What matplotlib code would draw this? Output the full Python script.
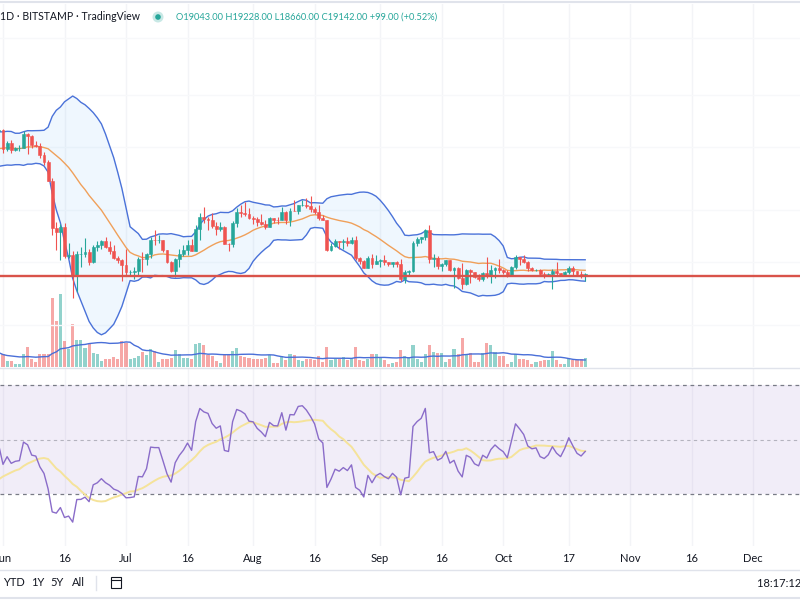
import numpy as np
import pandas as pd
import matplotlib
matplotlib.use("Agg")
import matplotlib.pyplot as plt
from matplotlib.patches import Circle, Rectangle

# --- data: BTC/USD daily candles (Bitstamp), 1 May -> 21 Oct 2022 ---
# May is only there so the 20-day Bollinger band and RSI are warmed up
dates = pd.date_range("2022-05-01", "2022-10-21", freq="D")
first_open = 37640

closes = [
    # May
    38470, 38520, 37730, 39690, 36550, 36010, 35470, 34060, 30300, 31020,
    28940, 29050, 29290, 30080, 31310, 29860, 30420, 28700, 30300, 29190,
    29430, 30280, 29100, 29650, 29560, 29270, 28630, 29020, 29450, 31720, 31790,
    # Jun
    29800, 30450, 29700, 29860, 29910, 31370, 31130, 30200, 30110, 29090,
    28420, 26580, 22490, 22210, 22580, 20380, 20470, 19000, 20560, 20570,
    20720, 19970, 21090, 21230, 21500, 21030, 20730, 20280, 20100, 19780,
    # Jul
    19290, 19300, 19330, 20220, 20190, 20550, 21620, 21590, 21590, 20850,
    19960, 19330, 20210, 20570, 20830, 21190, 20790, 22430, 23400, 23230,
    23160, 22680, 22450, 22580, 21310, 21250, 22950, 23850, 23770, 23640, 23300,
    # Aug
    23270, 22980, 22820, 22620, 23310, 23180, 23170, 23810, 23150, 23950,
    23940, 24400, 24440, 24300, 24100, 23860, 23340, 23190, 20830, 21140,
    21520, 21400, 21530, 21370, 21560, 20240, 20040, 19550, 20280, 19800, 20050,
    # Sep
    20130, 19950, 19830, 19990, 19800, 18790, 19290, 19320, 21380, 21650,
    21830, 22400, 20180, 20240, 19700, 19800, 20110, 19420, 19540, 18880,
    18490, 19410, 19290, 18920, 18800, 19220, 19080, 19410, 19590, 19430,
    # Oct
    19310, 19060, 19630, 20340, 20160, 19960, 19530, 19420, 19450, 19130,
    19060, 19160, 19380, 19180, 19070, 19270, 19550, 19330, 19120, 19043, 19142,
]
highs = [
    38670, 39150, 38650, 39960, 39830, 36650, 36130, 35500, 34240, 32620,
    32170, 30070, 31000, 30300, 31440, 31320, 30770, 30650, 30500, 30750,
    29610, 30450, 30650, 29810, 30200, 29850, 29380, 29200, 29600, 32200, 32400,
    31950, 30650, 30680, 29950, 30150, 31750, 31500, 31300, 30650, 30350,
    29450, 28580, 26900, 23000, 22800, 22950, 21350, 20780, 20800, 21060,
    21720, 20880, 21200, 21500, 21590, 21850, 21520, 21180, 20420, 20200,
    20880, 19450, 19650, 20350, 20720, 20650, 21820, 22400, 21950, 21610,
    20860, 20050, 20250, 20880, 21200, 21600, 21650, 22750, 23750, 24280,
    23440, 23760, 22990, 22980, 22640, 21330, 23100, 24200, 24450, 24650, 24200,
    23480, 23450, 23650, 23200, 23450, 23350, 23400, 24230, 23920, 24200,
    24900, 24450, 24880, 25050, 25200, 24250, 24450, 23600, 23200, 21360,
    21700, 21530, 21660, 21850, 21800, 21880, 20350, 20150, 20390, 20570, 20480,
    20200, 20440, 19990, 20000, 20040, 20180, 19450, 19440, 21520, 21780,
    21850, 22480, 22780, 20550, 20370, 19880, 20150, 20120, 19650, 19620,
    19930, 19480, 19480, 19300, 19170, 19300, 20350, 19750, 19640, 20160,
    19460, 19400, 19700, 20450, 20350, 20450, 20050, 19600, 19520, 19520,
    19250, 19220, 19520, 19950, 19220, 19370, 19680, 19700, 19350, 19340, 19228,
]
lows = [
    37390, 38060, 37500, 37680, 35860, 35250, 34770, 33710, 30040, 29760,
    27700, 25400, 28750, 28640, 29490, 29100, 29450, 28680, 28660, 28740,
    28950, 29250, 28880, 28300, 29330, 28020, 28280, 28540, 28850, 29300, 31230,
    29350, 29590, 29330, 29500, 29500, 29880, 29230, 29900, 29950, 28880,
    28120, 26560, 21950, 20850, 20100, 20250, 20250, 17600, 17980, 19640,
    20350, 19790, 19900, 20760, 20930, 20990, 20520, 20200, 19880, 18650,
    19000, 18980, 18800, 19050, 19300, 19780, 20250, 21200, 21350, 20670,
    19880, 19250, 18920, 19650, 20400, 20500, 20770, 20780, 21600, 22920,
    22350, 22500, 21950, 22280, 21300, 20730, 21050, 22600, 23450, 23500, 23250,
    22870, 22650, 22720, 22430, 22600, 22950, 22850, 23150, 22870, 22690,
    23880, 23630, 24300, 24200, 23800, 23700, 23200, 23150, 20800, 20780,
    21080, 20900, 20900, 21150, 21320, 20100, 19810, 19530, 19550, 19530, 19800,
    19650, 19750, 19670, 19610, 19650, 18700, 18540, 19020, 19300, 21150,
    21370, 21560, 19870, 19630, 19520, 19340, 19700, 19380, 18250, 18800,
    18180, 18400, 18560, 18850, 18680, 18650, 18850, 18520, 18880, 19200,
    19160, 18950, 19000, 19500, 19760, 19900, 19330, 19360, 19330, 19050,
    18880, 18980, 18190, 19100, 18980, 19060, 19160, 19100, 19070, 18900, 18660,
]
# volume, relative units
volumes_may = [
    12, 12, 12, 13, 18, 14, 10, 12, 35, 40, 45, 50, 25, 15, 10, 15, 12, 14,
    14, 12, 7, 8, 11, 10, 11, 13, 13, 7, 8, 16, 15,
]
volumes_jun_oct = [
    13, 6, 6, 3, 3, 13, 20, 8, 5, 13, 13, 13, 69, 46, 73, 26, 18, 43, 27, 27,
    19, 23, 14, 13, 6, 8, 8, 10, 8, 26, 24, 8, 9, 11, 15, 12, 18, 16, 5, 8,
    8, 9, 17, 13, 9, 9, 8, 23, 24,
    22, 12, 11, 6, 4, 12, 12, 16, 19, 11, 10, 9, 8, 8, 8, 9, 12, 4, 4, 11,
    7, 13, 12, 7, 6, 8, 8, 7, 11, 5, 20, 7, 8, 8, 10, 7, 9, 20, 7, 6,
    8, 13, 13, 10, 7, 3, 4,
    5, 17, 11, 10, 22, 8, 5, 13, 22, 15, 14, 14, 5, 8, 18, 13, 29, 13, 14, 5,
    5, 14, 24, 22, 15, 11, 11, 3, 5, 13, 8, 8, 7, 3, 5, 6, 7, 7, 16, 7,
    3, 3, 8, 7, 7, 8, 9,
]
support_level = 19020

tick_dates = ["2022-06-01", "2022-06-16", "2022-07-01", "2022-07-16", "2022-08-01",
              "2022-08-16", "2022-09-01", "2022-09-16", "2022-10-01", "2022-10-17",
              "2022-11-01", "2022-11-16", "2022-12-01"]
tick_labels = ["Jun", "16", "Jul", "16", "Aug", "16", "Sep", "16", "Oct", "17",
               "Nov", "16", "Dec"]

# --- indicators ---
closes = np.array(closes, dtype=float)
highs = np.array(highs, dtype=float)
lows = np.array(lows, dtype=float)
opens = np.concatenate([[first_open], closes[:-1]])
volumes = np.array(volumes_may + volumes_jun_oct, dtype=float)

origin = pd.Timestamp("2022-06-01")
x = (dates - origin).days.values.astype(float)
ticks_x = [(pd.Timestamp(d) - origin).days for d in tick_dates]

close_s = pd.Series(closes)
basis = close_s.rolling(20).mean().values
dev = close_s.rolling(20).std(ddof=0).values
upper = basis + 2 * dev
lower = basis - 2 * dev
vol_ma = pd.Series(volumes).rolling(20).mean().values


def rsi(values, n=14):
    diff = np.diff(values)
    gains = np.clip(diff, 0, None)
    losses = np.clip(-diff, 0, None)
    out = np.full(len(values), np.nan)
    avg_g, avg_l = gains[:n].mean(), losses[:n].mean()
    out[n] = 100 - 100 / (1 + avg_g / avg_l)
    for i in range(n, len(diff)):
        avg_g = (avg_g * (n - 1) + gains[i]) / n
        avg_l = (avg_l * (n - 1) + losses[i]) / n
        out[i + 1] = 100 - 100 / (1 + avg_g / avg_l)
    return out


rsi_vals = rsi(closes)
rsi_ma = pd.Series(rsi_vals).rolling(14).mean().values

# --- colours / fonts ---
UP, DOWN = "#26a69a", "#ef5350"
GRID = "#f3f4f7"
UI_FONT = ["Lato", "DejaVu Sans"]
candle_colors = np.where(closes >= opens, UP, DOWN)

# --- figure / panes (positions in pixels of an 800x600 canvas) ---
W, H = 800, 600
fig = plt.figure(figsize=(8, 6), dpi=100)
fig.patch.set_facecolor("white")


def pane(top, bottom):
    return fig.add_axes([0, 1 - bottom / H, 1, (bottom - top) / H])


x_lo, x_hi = -3 / 4.1, (W - 3) / 4.1

ax_vol = pane(4, 367)
ax = pane(4, 367)
ax_rsi = pane(368, 546)

for a in (ax_vol, ax, ax_rsi):
    a.set_xlim(x_lo, x_hi)
    for sp in a.spines.values():
        sp.set_visible(False)
    a.tick_params(length=0, labelleft=False, labelbottom=False)
    a.set_yticks([])
ax.patch.set_alpha(0)
ax.set_xticks([])
ax_vol.set_xticks([])

# vertical grid
for t in ticks_x:
    ax_vol.axvline(t, color=GRID, lw=1, zorder=0)
    ax_rsi.axvline(t, color=GRID, lw=1, zorder=0)

# volume
ax_vol.set_ylim(0, 363)
ax_vol.bar(x, volumes, width=0.75, color=candle_colors, alpha=0.5, linewidth=0)
ax_vol.plot(x, vol_ma, color="#4a6fd8", lw=1)

# price pane (log scale)
ax.set_yscale("log")
ax.set_ylim(13790, 49640)
ax.minorticks_off()
ax.set_yticks([])
for lvl in (16000, 20000, 24000, 30000, 36000, 44000):
    ax.axhline(lvl, color="#f7f8fa", lw=1, zorder=0)

ax.fill_between(x, lower, upper, color="#2196f3", alpha=0.07, linewidth=0, zorder=1)
ax.plot(x, upper, color="#4a72d9", lw=1, zorder=2)
ax.plot(x, lower, color="#4a72d9", lw=1, zorder=2)
ax.plot(x, basis, color="#f0a05a", lw=1, zorder=2)

ax.vlines(x, lows, highs, colors=candle_colors, lw=0.8, zorder=3)
ax.bar(x, np.abs(closes - opens), bottom=np.minimum(opens, closes), width=0.7,
       color=candle_colors, edgecolor=candle_colors, linewidth=0.4, zorder=4)

ax.axhline(support_level, color="#d9534a", lw=1.7, zorder=5)

# RSI pane
ax_rsi.set_ylim(10.92, 76.24)
ax_rsi.axhspan(30, 70, color="#7e57c2", alpha=0.1, lw=0, zorder=0)
ax_rsi.axhline(70, color="#787b86", lw=0.9, ls=(0, (3, 3)), zorder=1)
ax_rsi.axhline(30, color="#787b86", lw=0.9, ls=(0, (3, 3)), zorder=1)
ax_rsi.axhline(50, color="#787b86", lw=0.8, ls=(0, (3, 3)), alpha=0.5, zorder=1)
ax_rsi.plot(x, rsi_ma, color="#f5e39a", lw=1.4, zorder=2)
ax_rsi.plot(x, rsi_vals, color="#8a6cc9", lw=1, zorder=3)

ax_rsi.set_xticks(ticks_x)
ax_rsi.set_xticklabels(tick_labels, fontsize=8, color="#131722", family=UI_FONT)
ax_rsi.tick_params(axis="x", labelbottom=True, pad=5)

# --- overlay: header, separators and bottom toolbar ---
ov = fig.add_axes([0, 0, 1, 1])
ov.set_xlim(0, W)
ov.set_ylim(H, 0)
ov.axis("off")

ov.axhline(2, color="#e0e3eb", lw=1.5)
ov.axhline(367.5, color="#e0e3eb", lw=1)
ov.axhline(570, color="#e0e3eb", lw=1)
ov.axhline(598, color="#e0e3eb", lw=1.5)

ov.text(0, 17, "1D · BITSTAMP · TradingView", fontsize=7.6, color="#131722",
        va="center", ha="left", family=UI_FONT)
ov.add_patch(Circle((158, 17), 5.5, color="#26a69a", alpha=0.25, lw=0))
ov.add_patch(Circle((158, 17), 2.8, color="#26a69a", lw=0))
chg = closes[-1] - opens[-1]
ohlc = (f"O{opens[-1]:.2f} H{highs[-1]:.2f} L{lows[-1]:.2f} C{closes[-1]:.2f} "
        f"{chg:+.2f} ({chg / opens[-1] * 100:+.2f}%)")
ov.text(176, 17, ohlc, fontsize=6.7, color="#26a69a", va="center", ha="left",
        family=UI_FONT)

for label, px in (("YTD", 3), ("1Y", 31), ("5Y", 50), ("All", 72)):
    ov.text(px, 583, label, fontsize=8, color="#131722", va="center", ha="left",
            family=UI_FONT)
ov.plot([96, 96], [576, 590], color="#e0e3eb", lw=1)
ov.add_patch(Rectangle((111, 577), 10, 11, fill=False, ec="#131722", lw=0.8))
ov.plot([111, 121], [580, 580], color="#131722", lw=0.8)
ov.text(757, 583, "18:17:12 (UTC)", fontsize=8, color="#131722", va="center",
        ha="left", family=UI_FONT)

fig.savefig("out.png", dpi=100)
